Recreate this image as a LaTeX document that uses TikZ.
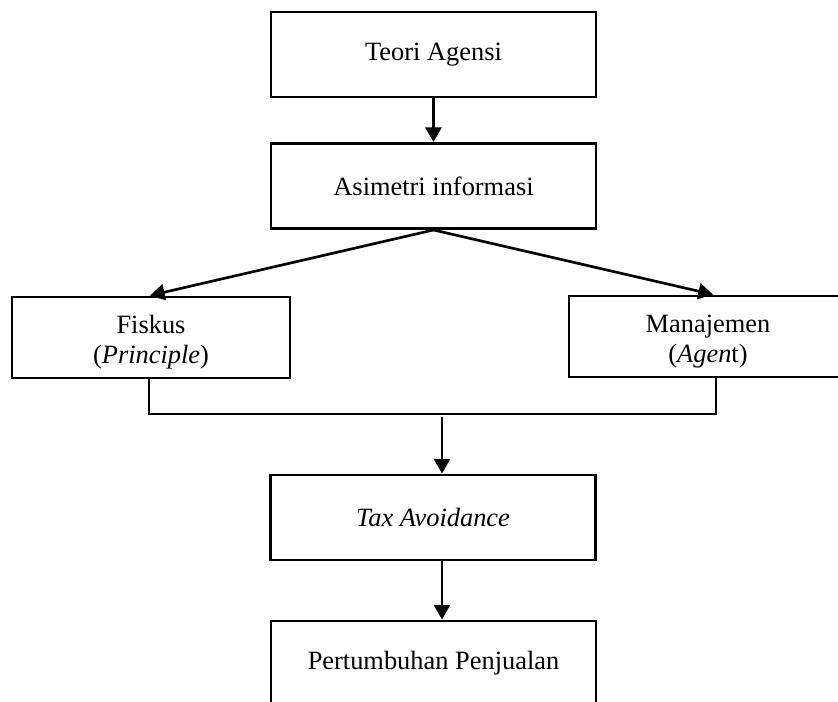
\documentclass[tikz,border=0pt]{standalone}
\usepackage{fontspec}
\setmainfont{Liberation Serif}
\usetikzlibrary{arrows.meta}

\newcommand{\atas}{\rule{0pt}{21pt}}

\tikzset{
  kotak/.style={rectangle, draw, line width=2.2pt, align=center, minimum width=243.75pt, minimum height=63.75pt, font=\fontsize{19.8pt}{22.5pt}\selectfont},
  kotakkecil/.style={kotak, minimum width=208.5pt, minimum height=60.75pt},
  panah/.style={line width=2pt, -{Triangle[length=11pt,width=12pt]}},
  garis/.style={line width=1pt}
}

\begin{document}
\begin{tikzpicture}[x=0.75pt,y=-0.75pt]
\useasboundingbox (0,0) rectangle (838,702);
\clip (0,0) rectangle (838,702);
\node[kotak] (teori) at (433.5,54.5) {Teori Agensi};
\node[kotak] (asimetri) at (433.5,186) {Asimetri informasi};
\node[kotakkecil] (fiskus) at (151,337.5) {\atas Fiskus\\(\textit{Principle})};
\node[kotakkecil] (manajemen) at (708,336.5) {\atas Manajemen\\(\textit{Agen}t)};
\node[kotak] (tax) at (433,517.5) {\textit{Tax Avoidance}};
\node[kotak] (tumbuh) at (433.5,663.5) {Pertumbuhan Penjualan};
\coordinate (gabung) at (442,414);

\draw[panah] (teori) -- (asimetri);
\draw[panah] (asimetri.south) -- ([xshift=3.75pt]manajemen.north);
\draw[panah] (asimetri.south) -- ([xshift=-0.75pt]fiskus.north);
\draw[garis] ([xshift=-1.5pt]fiskus.south) |- (gabung) -| ([xshift=6pt]manajemen.south);
\draw[panah] ([yshift=-2pt]gabung) -- (gabung |- tax.north);
\draw[panah] (tax.south -| gabung) -- (tumbuh.north -| gabung);
\end{tikzpicture}
\end{document}
